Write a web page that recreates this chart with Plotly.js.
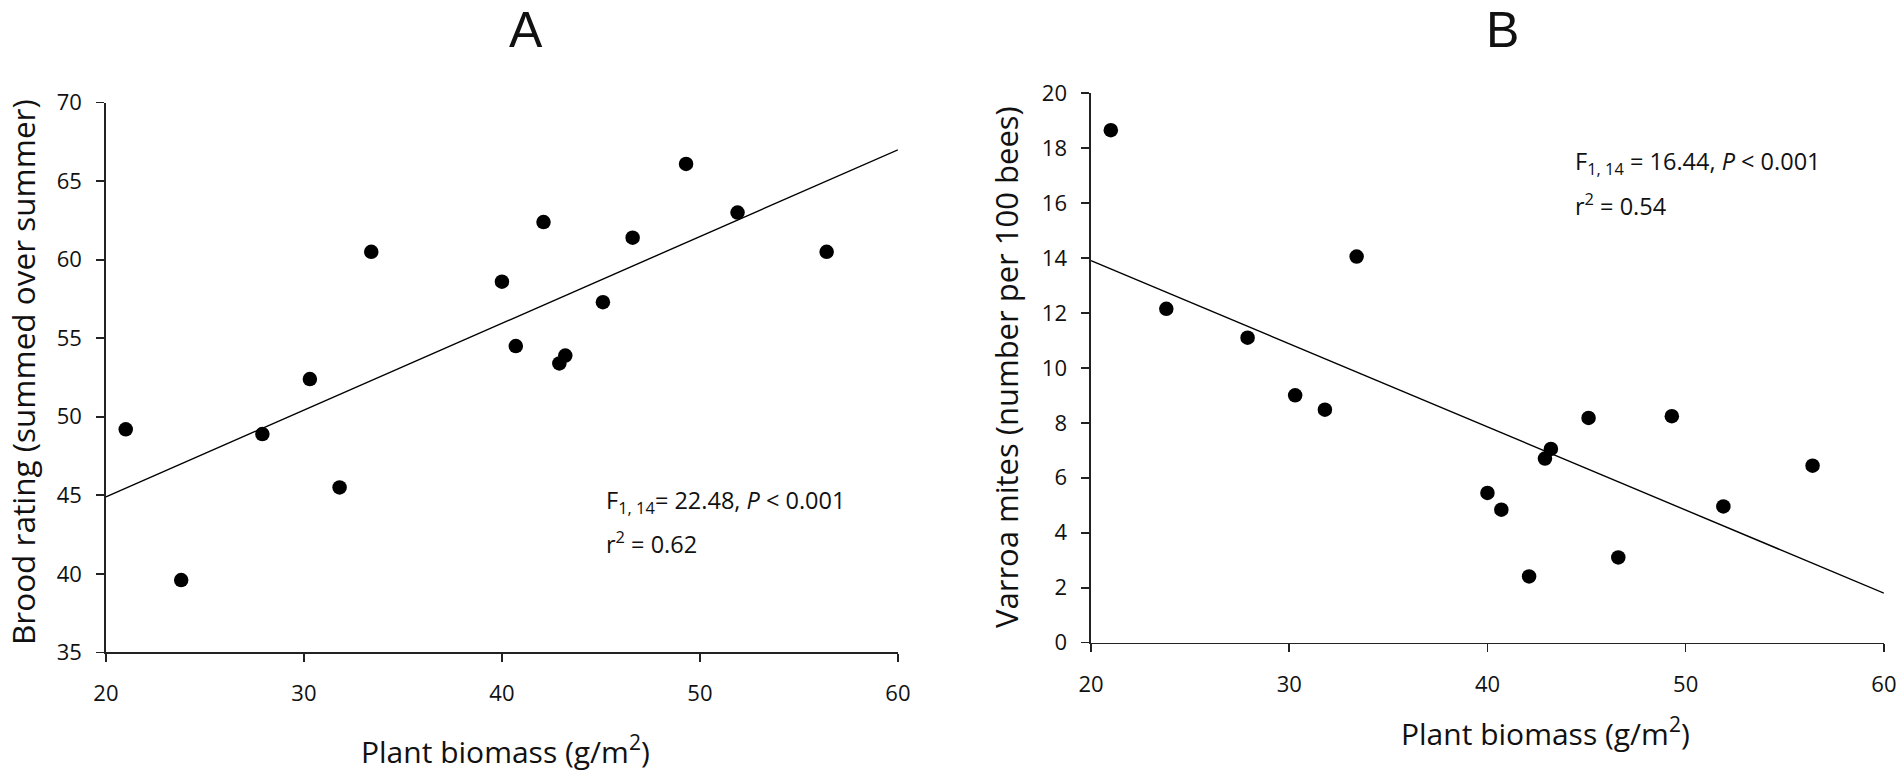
<!DOCTYPE html>
<html>
<head>
<meta charset="utf-8">
<script src="https://cdn.plot.ly/plotly-3.0.1.min.js"></script>
<style>
  html, body { margin: 0; padding: 0; background: #fff; }
  #chart { width: 1902px; height: 772px; }
</style>
</head>
<body>
<div id="chart"></div>
<script>
// plant biomass (g/m2) per site, same sites in both panels
var biomass = [21.0, 23.8, 27.9, 30.3, 31.8, 33.4, 40.0, 40.7, 42.1, 42.9, 43.2, 45.1, 46.6, 49.3, 51.9, 56.4];
// panel A: brood rating summed over summer
var brood = [49.2, 39.6, 48.9, 52.4, 45.5, 60.5, 58.6, 54.5, 62.4, 53.4, 53.9, 57.3, 61.4, 66.1, 63.0, 60.5];
// panel B: varroa mites per 100 bees
var varroa = [18.65, 12.15, 11.1, 9.0, 8.48, 14.05, 5.45, 4.84, 2.41, 6.7, 7.05, 8.18, 3.1, 8.24, 4.96, 6.44];

// regression lines at the axis ends
var fitX = [20, 60];
var fitA = [44.9, 67.0];
var fitB = [13.9, 1.8];

var xTicks = [20, 30, 40, 50, 60];
var yTicksA = [35, 40, 45, 50, 55, 60, 65, 70];
var yTicksB = [0, 2, 4, 6, 8, 10, 12, 14, 16, 18, 20];

var tickFont = {family: 'Open Sans, sans-serif', size: 22, color: '#111'};
var titleFont = {family: 'Open Sans, sans-serif', size: 30, color: '#111'};
var noteFont = {family: 'Open Sans, sans-serif', size: 23.5, color: '#111'};

var dots = {color: '#000', size: 14.5, line: {width: 0}};
var fitLine = {color: '#000', width: 1.4};

var data = [
    {x: fitX, y: fitA, mode: 'lines', line: fitLine, xaxis: 'x', yaxis: 'y', hoverinfo: 'skip'},
    {x: biomass, y: brood, mode: 'markers', marker: dots, xaxis: 'x', yaxis: 'y'},
    {x: fitX, y: fitB, mode: 'lines', line: fitLine, xaxis: 'x2', yaxis: 'y2', hoverinfo: 'skip'},
    {x: biomass, y: varroa, mode: 'markers', marker: dots, xaxis: 'x2', yaxis: 'y2'}
];

function axis(extra) {
    var a = {
        showgrid: false,
        zeroline: false,
        showline: true,
        linecolor: '#222',
        linewidth: 1.6,
        ticks: 'outside',
        ticklen: 8,
        tickwidth: 1.6,
        tickcolor: '#222',
        tickfont: tickFont,
        tickmode: 'array',
        fixedrange: true
    };
    for (var k in extra) a[k] = extra[k];
    return a;
}

var layout = {
    width: 1902,
    height: 772,
    autosize: false,
    margin: {l: 0, r: 0, t: 0, b: 0, pad: 0},
    paper_bgcolor: '#fff',
    plot_bgcolor: '#fff',
    showlegend: false,
    xaxis: axis({domain: [0.0557, 0.4721], range: [20, 60], tickvals: xTicks, anchor: 'y', ticklabelstandoff: 13}),
    yaxis: axis({domain: [0.1550, 0.8670], range: [35, 70], tickvals: yTicksA, anchor: 'x', ticklabelstandoff: 10}),
    xaxis2: axis({domain: [0.5736, 0.9905], range: [20, 60], tickvals: xTicks, anchor: 'y2', ticklabelstandoff: 13}),
    yaxis2: axis({domain: [0.1675, 0.8795], range: [0, 20], tickvals: yTicksB, anchor: 'x2', ticklabelstandoff: 10}),
    annotations: [
        // panel letters
        {text: 'A', xref: 'paper', yref: 'paper', x: 526 / 1902, y: 1, xanchor: 'center', yanchor: 'top', showarrow: false,
         font: {family: 'Liberation Sans, Arial, sans-serif', size: 50, color: '#111'}},
        {text: 'B', xref: 'paper', yref: 'paper', x: 1502 / 1902, y: 1, xanchor: 'center', yanchor: 'top', showarrow: false,
         font: {family: 'Liberation Sans, Arial, sans-serif', size: 50, color: '#111'}},
        // axis titles
        {text: 'Plant biomass (g/m<sup>2</sup>)', xref: 'paper', yref: 'paper', x: 505 / 1902, y: 1 - 750 / 772,
         xanchor: 'center', yanchor: 'middle', showarrow: false, font: titleFont},
        {text: 'Plant biomass (g/m<sup>2</sup>)', xref: 'paper', yref: 'paper', x: 1545 / 1902, y: 1 - 732 / 772,
         xanchor: 'center', yanchor: 'middle', showarrow: false, font: titleFont},
        {text: 'Brood rating (summed over summer)', xref: 'paper', yref: 'paper', x: 23 / 1902, y: 1 - 372 / 772,
         xanchor: 'center', yanchor: 'middle', textangle: -90, showarrow: false,
         font: {family: 'Open Sans, sans-serif', size: 31.5, color: '#111'}},
        {text: 'Varroa mites (number per 100 bees)', xref: 'paper', yref: 'paper', x: 1006 / 1902, y: 1 - 367 / 772,
         xanchor: 'center', yanchor: 'middle', textangle: -90, showarrow: false,
         font: {family: 'Open Sans, sans-serif', size: 31, color: '#111'}},
        // statistics
        {text: 'F<sub>1, 14</sub>= 22.48, <i>P</i> < 0.001', xref: 'paper', yref: 'paper', x: 604 / 1902, y: 1 - 501 / 772,
         xanchor: 'left', yanchor: 'middle', showarrow: false, font: noteFont},
        {text: 'r<sup>2</sup> = 0.62', xref: 'paper', yref: 'paper', x: 604 / 1902, y: 1 - 542 / 772,
         xanchor: 'left', yanchor: 'middle', showarrow: false, font: noteFont},
        {text: 'F<sub>1, 14</sub> = 16.44, <i>P</i> < 0.001', xref: 'paper', yref: 'paper', x: 1573 / 1902, y: 1 - 163 / 772,
         xanchor: 'left', yanchor: 'middle', showarrow: false, font: noteFont},
        {text: 'r<sup>2</sup> = 0.54', xref: 'paper', yref: 'paper', x: 1573 / 1902, y: 1 - 204 / 772,
         xanchor: 'left', yanchor: 'middle', showarrow: false, font: noteFont}
    ]
};

Plotly.newPlot('chart', data, layout, {displayModeBar: false, staticPlot: true});
</script>
</body>
</html>
